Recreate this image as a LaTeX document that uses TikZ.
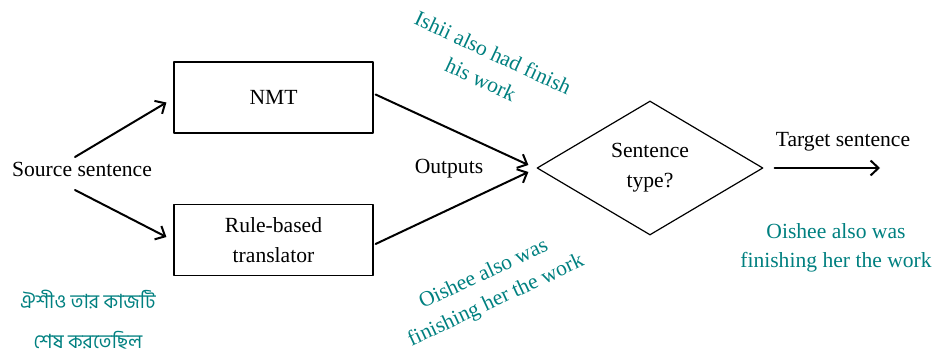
\documentclass[tikz,border=0pt]{standalone}
\usepackage{fontspec}
\setmainfont{Liberation Serif}
\newfontfamily\bnfont[Script=Bengali]{Hind Siliguri}
\usetikzlibrary{shapes.geometric,arrows.meta}
\definecolor{outteal}{RGB}{0,128,128}
\begin{document}
\begin{tikzpicture}[x=0.5pt,y=-0.5pt, font=\fontsize{10.8}{15}\selectfont, line join=round, line cap=round,>={Straight Barb[length=4pt,width=7.5pt]}]
\tikzset{
  box/.style={draw, line width=0.6pt, minimum width=99.5pt, minimum height=35.5pt, align=center},
  decide/.style={draw, diamond, line width=0.6pt, aspect=1.69, minimum width=113pt, minimum height=67pt, inner sep=0pt, align=center},
  flow/.style={->, line width=1pt},
  sample/.style={text=outteal, align=center, font=\fontsize{10.8}{14.5}\selectfont}
}
\useasboundingbox (0,0) rectangle (934,353);
% input and the two translators
\node (src) at (82,169) {Source sentence};
\node[box] (nmt) at (273.5,97.5) {NMT};
\node[box] (rbt) at (273.5,240) {Rule-based\\translator};
\node[decide] (dia) at (650,168) {Sentence\\type?};
\node (out) at (449,169) {Outputs};
\coordinate (tgt) at (880,168);
\node (tgtlab) at (843,142) {Target sentence};
% arrows
\draw[flow] ([shift={(-7,-12)}]src.center) -- ([shift={(-7,5)}]nmt.west);
\draw[flow] ([shift={(-7,21)}]src.center) -- ([shift={(-7,-3)}]rbt.west);
\draw[flow] ([shift={(2,-3)}]nmt.east) -- ([shift={(-8,-3)}]dia.west);
\draw[flow] ([shift={(2,4)}]rbt.east) -- ([shift={(-8,4)}]dia.west);
\draw[flow] ([xshift=5.5pt]dia.east) -- (tgt);
% example sentences
\node[sample, rotate=-25] (ishii) at (487,66) {Ishii also had finish\\his work};
\node[sample, rotate=25] (oishee) at (490,288) {Oishee also was\\finishing her the work};
\node[sample] (final) at (836,248) {Oishee also was\\finishing her the work};
\node[text=outteal, align=center, font=\bnfont\fontsize{9.8}{20}\selectfont] (bn) at (88,320) {ঐশীও তার কাজটি\\শেষ করতেছিল};
\end{tikzpicture}
\end{document}
